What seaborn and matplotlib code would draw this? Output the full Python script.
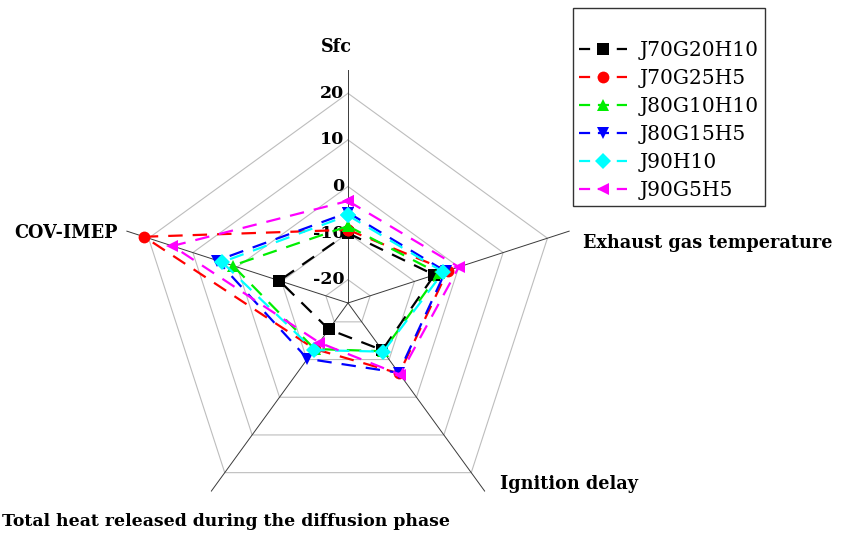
import numpy as np
import pandas as pd
import matplotlib
matplotlib.use("Agg")
import matplotlib.pyplot as plt
from matplotlib.lines import Line2D
import seaborn as sns

# ---------------- data ----------------
categories = ["Sfc", "Exhaust gas temperature", "Ignition delay",
              "Total heat released during the diffusion phase", "COV-IMEP"]
series_names = ["J70G20H10", "J70G25H5", "J80G10H10", "J80G15H5", "J90H10", "J90G5H5"]
J70G20H10 = [-10.0, -5.5, -12.5, -18.0, -9.5]
J70G25H5 = [-9.3, -2.5, -6.3, -12.8, 21.0]
J80G10H10 = [-8.5, -4.5, -12.2, -12.8, 1.0]
J80G15H5 = [-5.6, -3.0, -6.5, -10.2, 4.5]
J90H10 = [-6.2, -3.5, -12.1, -12.5, 3.4]
J90G5H5 = [-3.1, 0.0, -6.0, -14.5, 14.6]
tick_values = [-20, -10, 0, 10, 20]
tick_labels = ["-20", "-10", "0", "10", "20"]
r_min, r_max = -25, 25

series_values = [J70G20H10, J70G25H5, J80G10H10, J80G15H5, J90H10, J90G5H5]
colors = ["#000000", "#ff0000", "#00ee00", "#0000ff", "#00ffff", "#ff00ff"]
marker_list = ["s", "o", "^", "v", "D", "<"]

# ---------------- build long table ----------------
n = len(categories)
theta = np.arange(n) * 2 * np.pi / n
theta_closed = np.append(theta, 2 * np.pi)
rows = []
for name, vals in zip(series_names, series_values):
    closed = list(vals) + [vals[0]]
    for t, v in zip(theta_closed, closed):
        rows.append({"theta": t, "value": v, "series": name})
df = pd.DataFrame(rows)

palette = dict(zip(series_names, colors))
markers = dict(zip(series_names, marker_list))
dash_pat = (6.5, 4.5)
dashes = {s: dash_pat for s in series_names}

# ---------------- figure ----------------
W, H = 841, 536
fig = plt.figure(figsize=(W / 100, H / 100), dpi=100)
cx, cy, R = 348, 303, 233  # pixel centre / radius (from top-left)
ax = fig.add_axes([(cx - R) / W, (H - cy - R) / H, 2 * R / W, 2 * R / H],
                  projection="polar")
ax.set_theta_offset(np.pi / 2)
ax.set_theta_direction(-1)
ax.set_ylim(r_min, r_max)
ax.axis("off")

# polygon grid rings
for rv in tick_values:
    ax.plot(theta_closed, [rv] * (n + 1), color="#bdbdbd", lw=0.8, zorder=1)
# spokes
for t in theta:
    ax.plot([t, t], [r_min, r_max], color="#3a3a3a", lw=0.7, zorder=1)

# tick labels along the Sfc axis
for rv, lab in zip(tick_values, tick_labels):
    ax.annotate(lab, xy=(0, rv), xytext=(-2.5, 0), textcoords="offset points",
                ha="right", va="center", fontsize=12.5, fontweight="bold",
                family="DejaVu Serif", zorder=2)

sns.lineplot(data=df, x="theta", y="value", hue="series", style="series",
             hue_order=series_names, style_order=series_names,
             palette=palette, markers=markers, dashes=dashes,
             sort=False, estimator=None, legend=False, ax=ax,
             linewidth=1.6, markersize=8.5, markeredgewidth=0, zorder=3)

# category labels
lab_kw = dict(fontsize=12.7, fontweight="bold", family="DejaVu Serif")
fig.text(336 / W, 1 - 47 / H, categories[0], ha="center", va="center", **lab_kw)
fig.text(583 / W, 1 - 243 / H, categories[1], ha="left", va="center", **lab_kw)
fig.text(500 / W, 1 - 484 / H, categories[2], ha="left", va="center", **lab_kw)
fig.text(2 / W, 1 - 522 / H, categories[3], ha="left", va="center",
         fontsize=12.4, fontweight="bold", family="DejaVu Serif")
fig.text(118 / W, 1 - 233 / H, categories[4], ha="right", va="center", **lab_kw)

# legend
handles = [Line2D([], [], color=c, marker=m, markersize=8.5, markeredgewidth=0,
                  linewidth=1.6, dashes=(5, 3.5))
           for c, m in zip(colors, marker_list)]
leg = fig.legend(handles, series_names, loc="upper left",
                 bbox_to_anchor=(573 / W, 1 - 8 / H), frameon=True,
                 fancybox=False, edgecolor="black", title=" ",
                 prop={"family": "DejaVu Serif", "size": 14.5},
                 title_fontsize=12, handlelength=2.4, handletextpad=0.6,
                 labelspacing=0.45, borderpad=0.3, borderaxespad=0)
leg.get_frame().set_linewidth(1.0)

fig.savefig("out.png", dpi=100)
